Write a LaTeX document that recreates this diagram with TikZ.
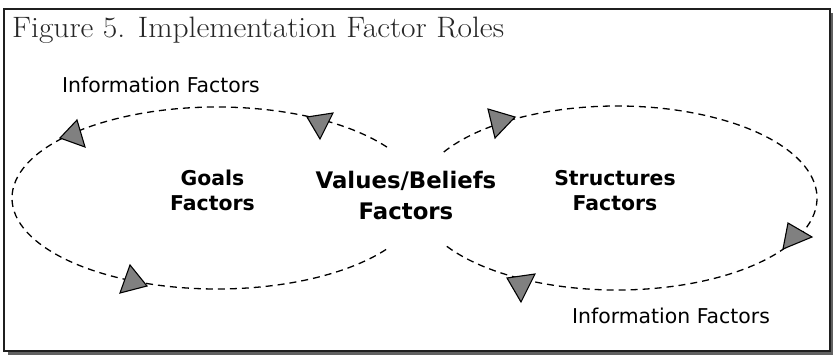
\documentclass[tikz,border=0pt]{standalone}
\usepackage{fontspec}
\usepackage{graphicx}
\newfontfamily\labelfont{DejaVu Sans}
\begin{document}
\begin{tikzpicture}[x=1pt,y=-1pt,
  loop/.style={line width=1.3pt, dash pattern=on 7pt off 5pt, black},
  tri/.style={fill=black!50, draw=black, line width=1.1pt, line join=miter},
  info/.style={inner sep=0pt, anchor=base west, font=\labelfont\fontsize{20.4}{24}\selectfont},
  factor/.style={inner sep=0pt, align=center, anchor=base, font=\labelfont\bfseries\fontsize{20.4}{25}\selectfont},
  bigfactor/.style={inner sep=0pt, align=center, anchor=base, font=\labelfont\bfseries\fontsize{22.8}{31}\selectfont}]
\useasboundingbox (0,0) rectangle (833,356);
% frame with its drop shadow
\fill[black!62] (8,13) rectangle (833,355);
\fill[white, draw=black!88, line width=2pt] (3.5,8.5) rectangle (829.5,350.5);
% title
\node[inner sep=0pt, anchor=base west, text=black!85, font=\fontsize{29.5}{32}\selectfont] (title) at (12,37) {\scalebox{1.067}[1]{Figure 5. Implementation Factor Roles}};
% the two dashed loops
\draw[loop] (217,198) ++(-34:205 and 91) arc[start angle=-34, end angle=-326, x radius=205, y radius=91];
\draw[loop] (617,198) ++(-150:200 and 92) arc[start angle=-150, end angle=150, x radius=200, y radius=92];
% arrowheads along the loops
\draw[tri] (60,138) -- (77,120) -- (85,147) -- cycle;
\draw[tri] (307,117) -- (333,113) -- (320,139) -- cycle;
\draw[tri] (130,265) -- (147,286) -- (120,293) -- cycle;
\draw[tri] (488,109) -- (515,117) -- (495,138) -- cycle;
\draw[tri] (788,223) -- (812,237) -- (783,249) -- cycle;
\draw[tri] (507,278) -- (535,274) -- (521,302) -- cycle;
% labels (base anchor sits on the last line)
\node[info] (infotop) at (62,92) {Information Factors};
\node[info] (infobot) at (572,323) {Information Factors};
\node[factor] (goals) at (212.5,210) {Goals\\Factors};
\node[bigfactor] (values) at (406,219) {Values/Beliefs\\Factors};
\node[factor] (structures) at (615,210) {Structures\\Factors};
\end{tikzpicture}
\end{document}
